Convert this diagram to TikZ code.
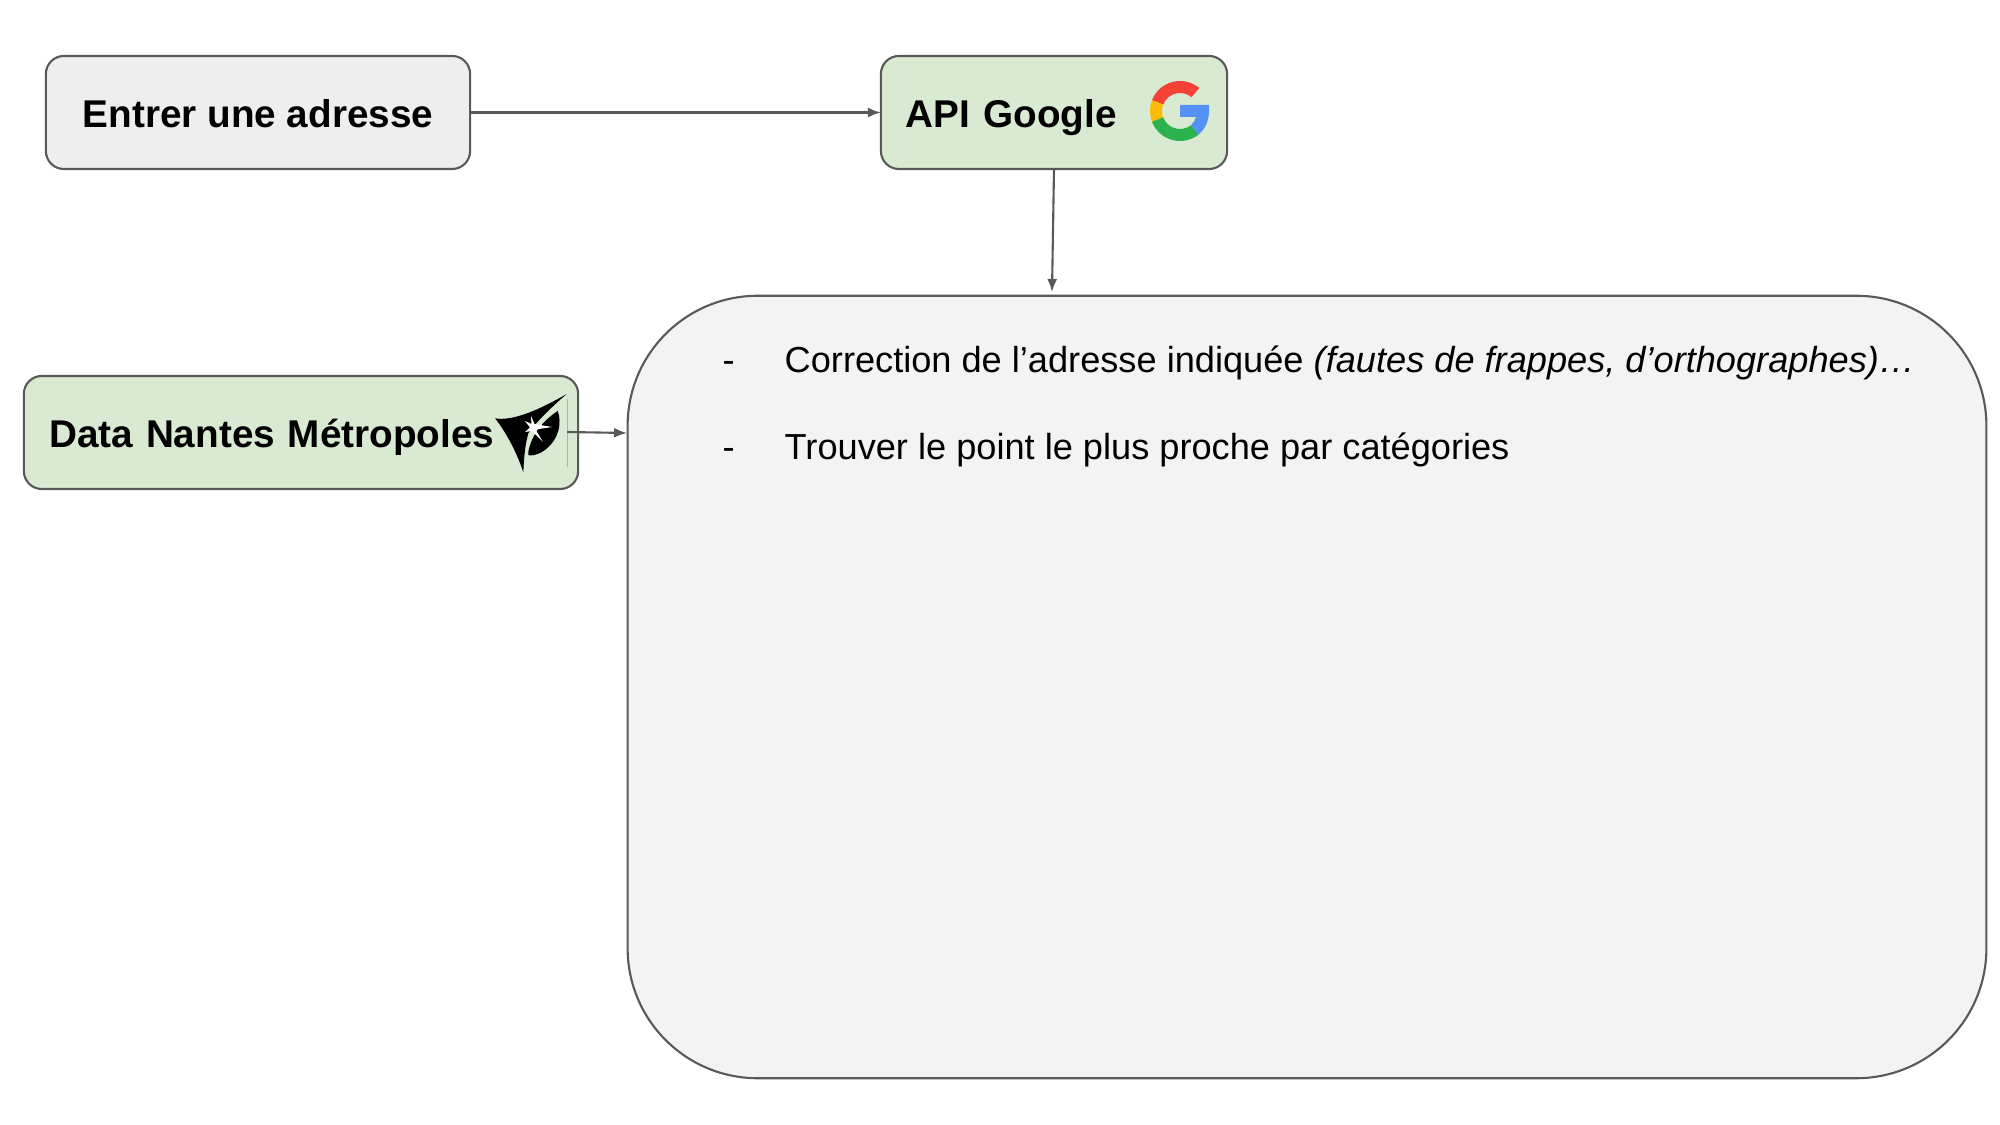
\documentclass[tikz,border=0pt]{standalone}
\usepackage{fontspec}
\setmainfont{Liberation Sans}
\usepackage{tikz}
\usetikzlibrary{arrows.meta}

\definecolor{trait}{HTML}{595959}
\definecolor{fondgris}{HTML}{EEEEEE}
\definecolor{fondvert}{HTML}{D9EAD3}
\definecolor{fondclair}{HTML}{F3F3F3}
\definecolor{gred}{HTML}{F44336}
\definecolor{gyellow}{HTML}{FBBC05}
\definecolor{ggreen}{HTML}{2BB24C}
\definecolor{gblue}{HTML}{5591F5}

\begin{document}
\begin{tikzpicture}[x=0.01cm,y=-0.01cm]
	
	\tikzset{box/.style = {shape=rectangle,rounded corners=1.8mm,draw=trait,line width=0.6pt,outer sep=0pt,minimum height=11.3mm,inner xsep=0pt,inner ysep=0pt,text height=3.7mm,text depth=0.66mm,font=\fontsize{11}{13}\selectfont\bfseries}}
	\tikzset{greybox/.style = {box,fill=fondgris}}
	\tikzset{greenbox/.style = {box,fill=fondvert,align=left}}
	\tikzset{bigbox/.style = {shape=rectangle,rounded corners=13mm,draw=trait,line width=0.6pt,outer sep=0pt,fill=fondclair,minimum width=135.8mm,minimum height=78.2mm}}
	\tikzset{line/.style = {anchor=base west,inner sep=0pt,font=\fontsize{10.29}{12}\selectfont}}
	\tikzset{edge/.style = {-{Latex[length=1.3mm,width=1mm]},draw=trait,fill=trait,line width=0.6pt}}
	
	\useasboundingbox (0,0) rectangle (2000,1125);
	
	\node[greybox,minimum width=42.4mm] (adresse) at (258,112.5) {Entrer une adresse};
	\node[greenbox,minimum width=34.6mm,text width=29.6mm] (google) at (1054,112.5) {API Google};
	\node[greenbox,minimum width=55.4mm,text width=50.3mm] (nantes) at (301,432.5) {Data Nantes Métropoles};
	\node[bigbox] (bloc) at (1307,687) {};
	
	\node[line] (tiret1) at (722,373) {-};
	\node[line] (ligne1) at (784,373) {Correction de l’adresse indiquée \textit{(fautes de frappes, d’orthographes)…}};
	\node[line] (tiret2) at (722,460) {-};
	\node[line] (ligne2) at (784,460) {Trouver le point le plus proche par catégories};
	
	% logo google
	\begin{scope}[shift={(1180,111)},x=0.01cm,y=0.01cm]
		\foreach \debut/\fin/\couleur in {50/159/gred,159/201/gyellow,201/308/ggreen}
			\fill[\couleur] (\debut:30) arc[start angle=\debut,end angle=\fin,radius=30] -- (\fin:18) arc[start angle=\fin,end angle=\debut,radius=18] -- cycle;
		\fill[gblue] (0,6) -- (29,6) .. controls (30,-10) and (25,-18) .. (18.5,-23.6) -- (11,-14) .. controls (14,-11) .. (16,-6) -- (0,-6) -- cycle;
	\end{scope}
	
	% logo nantes
	\fill (495,418.3) .. controls (510,421) and (533.3,413.3) .. (566.7,394) .. controls (548.3,410) and (536.7,421.7) .. (528.3,433.3) .. controls (524.3,448.3) and (524,460) .. (523.3,472.3) .. controls (518.3,456.7) and (508.3,435) .. cycle;
	\fill (557.7,411) .. controls (561.7,421.7) and (560,438.3) .. (545,450) .. controls (536.7,455.7) and (530,456) .. (528.3,455) -- (528.3,451.7) .. controls (531.7,435) and (541.7,421.7) .. cycle;
	\fill[white] (531,416) -- (534.5,424) -- (552,427) -- (535.5,429.5) -- (543,442) -- (532,431) -- (525,432) -- (530,427.5) -- (525,421) -- (531.5,424) -- cycle;
	\draw[line width=0.2pt,color=black!30] (567,399) -- (567,467);
	
	\coordinate (nantesfin) at (567,432);
	\coordinate (blocnantes) at (627,433);
	\coordinate (blocgoogle) at (1052,292);
	
	\draw[edge] (adresse) to (google);
	\draw[edge] (google.south) to (blocgoogle);
	\draw[edge] (nantesfin) to (blocnantes);
	\end{tikzpicture}
\end{document}
